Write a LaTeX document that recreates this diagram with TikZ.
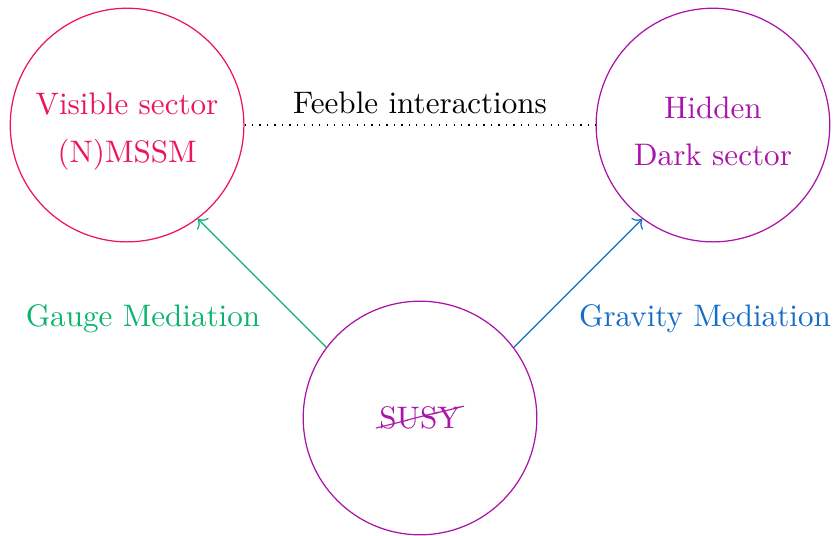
\documentclass[tikz,border=0pt]{standalone}
\usepackage{cancel}
\usetikzlibrary{arrows.meta}

\definecolor{vispink}{RGB}{236,20,96}
\definecolor{hidpurple}{RGB}{170,20,170}
\definecolor{gaugegreen}{RGB}{10,180,110}
\definecolor{gravblue}{RGB}{20,110,200}

\begin{document}
\begin{tikzpicture}[
    sector/.style={draw, circle, minimum size=2.64cm, align=center, inner sep=0pt}
  ]
  \useasboundingbox (-4.746,-1.333) rectangle (4.723,4.723);
  % The three sectors.
  \node[sector, vispink] (vis) at (-3.31,3.31) {\rule{0pt}{11pt}Visible sector\\[3.4pt](N)MSSM};
  \node[sector, hidpurple] (hid) at (3.31,3.31) {\rule{0pt}{11pt}Hidden\\[3.4pt]Dark sector};
  \node[sector, hidpurple] (susy) at (0,0) {\cancel{SUSY}};
  % Feeble link between visible and hidden.
  \draw[dotted] (vis.east) -- (hid.west);
  \node (feeble) at (0,3.56) {Feeble interactions};
  % Mediation arrows.
  \draw[->, gaugegreen] (susy.143) -- (vis.-53);
  \draw[->, gravblue] (susy.37) -- (hid.233);
  \node[gaugegreen] (gauge) at (-3.13,1.12) {Gauge Mediation};
  \node[gravblue] (grav) at (3.22,1.12) {Gravity Mediation};
\end{tikzpicture}
\end{document}
